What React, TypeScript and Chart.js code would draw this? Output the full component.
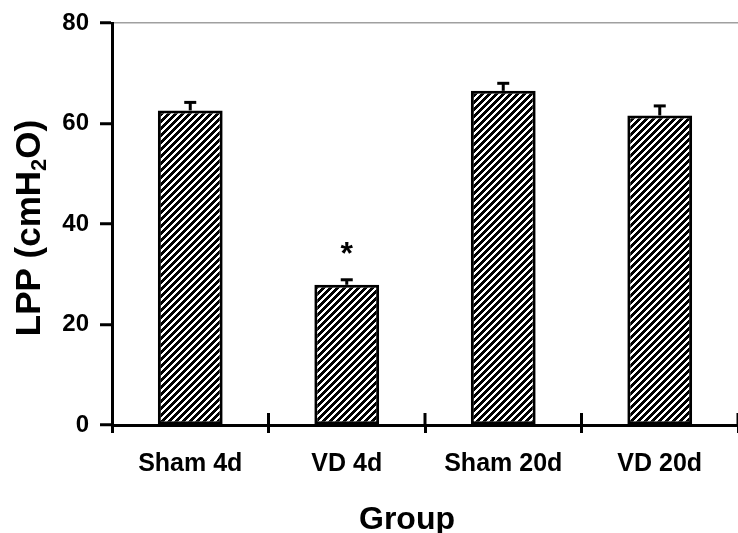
import React, { useEffect, useRef } from "react";
import { Chart, registerables } from "chart.js";

Chart.register(...registerables);

const categories = ["Sham 4d", "VD 4d", "Sham 20d", "VD 20d"];
const lppMeans = [62.6, 27.9, 66.5, 61.6];
const lppErrors = [1.6, 1.0, 1.5, 1.9];
const significance = ["", "*", "", ""];
const yMin = 0;
const yMax = 80;
const yStep = 20;
const yTitleMain = "LPP (cmH";
const yTitleSub = "2";
const yTitleEnd = "O)";
const xTitle = "Group";

const FONT = '"Liberation Sans", Arial, sans-serif';

function makeHatch(): CanvasPattern | string {
  const s = 7;
  const t = 4;
  const c = document.createElement("canvas");
  c.width = s;
  c.height = s;
  const g = c.getContext("2d");
  if (!g) return "#000";
  const img = g.createImageData(s, s);
  for (let yy = 0; yy < s; yy++) {
    for (let xx = 0; xx < s; xx++) {
      const on = (xx + yy) % s < t;
      const v = on ? 0 : 255;
      const k = (yy * s + xx) * 4;
      img.data[k] = v;
      img.data[k + 1] = v;
      img.data[k + 2] = v;
      img.data[k + 3] = 255;
    }
  }
  g.putImageData(img, 0, 0);
  const p = g.createPattern(c, "repeat");
  return p || "#000";
}

const extrasPlugin = {
  id: "extras",
  afterDatasetsDraw(chart: any) {
    const ctx = chart.ctx;
    const y = chart.scales.y;
    const meta = chart.getDatasetMeta(0);
    ctx.save();
    meta.data.forEach((el: any, i: number) => {
      const top = y.getPixelForValue(lppMeans[i] + lppErrors[i]);
      ctx.strokeStyle = "#000";
      ctx.lineWidth = 3;
      ctx.beginPath();
      ctx.moveTo(el.x, el.y);
      ctx.lineTo(el.x, top);
      ctx.stroke();
      ctx.beginPath();
      ctx.moveTo(el.x - 6, top);
      ctx.lineTo(el.x + 6, top);
      ctx.stroke();
      if (significance[i]) {
        ctx.fillStyle = "#000";
        ctx.font = `bold 32px ${FONT}`;
        ctx.textAlign = "center";
        ctx.textBaseline = "alphabetic";
        ctx.fillText(significance[i], el.x, top - 16);
      }
    });
    ctx.restore();
  },
  afterDraw(chart: any) {
    const ctx = chart.ctx;
    const x = chart.scales.x;
    const area = chart.chartArea;
    ctx.save();
    const n = categories.length;
    const w = (x.right - x.left) / n;
    ctx.strokeStyle = "#000";
    ctx.lineWidth = 3;
    for (let i = 1; i <= n; i++) {
      const px = x.left + i * w;
      ctx.beginPath();
      ctx.moveTo(px, area.bottom - 12);
      ctx.lineTo(px, area.bottom);
      ctx.stroke();
    }
    const cy = (area.top + area.bottom) / 2 + 4;
    ctx.translate(28, cy);
    ctx.rotate(-Math.PI / 2);
    ctx.fillStyle = "#000";
    ctx.textBaseline = "alphabetic";
    ctx.textAlign = "left";
    const big = `bold 35px ${FONT}`;
    const small = `bold 22px ${FONT}`;
    ctx.font = big;
    const w1 = ctx.measureText(yTitleMain).width;
    const w3 = ctx.measureText(yTitleEnd).width;
    ctx.font = small;
    const w2 = ctx.measureText(yTitleSub).width;
    const total = w1 + w2 + w3;
    let sx = -total / 2;
    const base = 12;
    ctx.font = big;
    ctx.fillText(yTitleMain, sx, base);
    sx += w1;
    ctx.font = small;
    ctx.fillText(yTitleSub, sx, base + 6);
    sx += w2;
    ctx.font = big;
    ctx.fillText(yTitleEnd, sx, base);
    ctx.restore();
    ctx.save();
    ctx.fillStyle = "#000";
    ctx.font = `bold 32px ${FONT}`;
    ctx.textAlign = "center";
    ctx.textBaseline = "alphabetic";
    ctx.fillText(xTitle, (area.left + area.right) / 2 - 18, 529);
    ctx.restore();
  },
};

export default function App() {
  const ref = useRef<HTMLCanvasElement | null>(null);
  useEffect(() => {
    if (!ref.current) return;
    const hatch = makeHatch();
    const chart = new Chart(ref.current, {
      type: "bar",
      data: {
        labels: categories,
        datasets: [
          {
            data: lppMeans,
            backgroundColor: hatch as any,
            borderColor: "#000",
            borderWidth: 3,
            borderSkipped: false,
            barPercentage: 0.414,
            categoryPercentage: 1,
          },
        ],
      },
      options: {
        responsive: false,
        animation: false,
        layout: { padding: { top: 16, right: 0, left: 0, bottom: 0 } },
        plugins: {
          legend: { display: false },
          tooltip: { enabled: false },
          title: { display: false },
        },
        scales: {
          x: {
            offset: true,
            border: { color: "#000", width: 3 },
            grid: {
              offset: true,
              drawOnChartArea: false,
              drawTicks: true,
              tickLength: 8,
              tickColor: "#000",
              tickWidth: 3,
            },
            ticks: {
              color: "#000",
              padding: 16,
              font: { family: FONT, size: 25, weight: "bold" },
            },
            afterFit(scale: any) {
              scale.height = 108;
            },
          },
          y: {
            min: yMin,
            max: yMax,
            border: { color: "#000", width: 3 },
            grid: {
              drawOnChartArea: true,
              color: (c: any) => (c.tick && c.tick.value === yMax ? "#a0a0a0" : "rgba(0,0,0,0)"),
              lineWidth: 1.5,
              drawTicks: true,
              tickLength: 12,
              tickColor: "#000",
              tickWidth: 3,
            },
            ticks: {
              stepSize: yStep,
              color: "#000",
              padding: 11,
              font: { family: FONT, size: 24, weight: "bold", lineHeight: 1 },
            },
            afterFit(scale: any) {
              scale.width = 112;
            },
          },
        },
      },
      plugins: [extrasPlugin],
    });
    return () => chart.destroy();
  }, []);
  return (
    <div style={{ position: "fixed", left: 0, top: 0, width: 738, height: 533, background: "#fff" }}>
      <canvas ref={ref} width={738} height={533} style={{ display: "block" }} />
    </div>
  );
}
